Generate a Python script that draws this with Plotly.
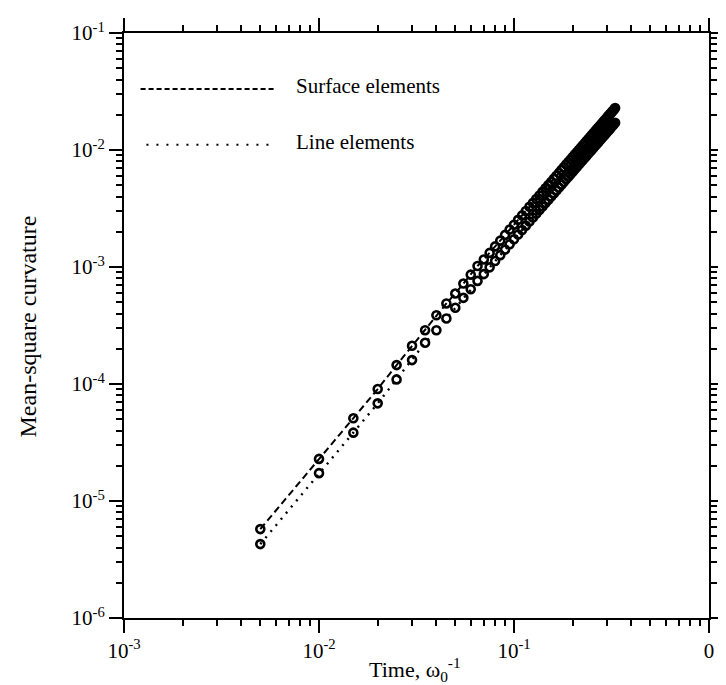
import plotly.graph_objects as go

# ---- data ----
time = [0.005, 0.01, 0.015, 0.02, 0.025, 0.03, 0.035, 0.04, 0.045, 0.05,
        0.055, 0.06, 0.065, 0.07, 0.075, 0.08, 0.085, 0.09, 0.095, 0.10,
        0.105, 0.11, 0.115, 0.12, 0.125, 0.13, 0.135, 0.14, 0.145, 0.15,
        0.155, 0.16, 0.165, 0.17, 0.175, 0.18, 0.185, 0.19, 0.195, 0.20,
        0.205, 0.21, 0.215, 0.22, 0.225, 0.23, 0.235, 0.24, 0.245, 0.25,
        0.255, 0.26, 0.265, 0.27, 0.275, 0.28, 0.285, 0.29, 0.295, 0.30,
        0.305, 0.31, 0.315, 0.32, 0.325, 0.33]

surface = [5.75e-6, 2.29e-5, 5.09e-5, 9.05e-5, 1.45e-4, 2.12e-4, 2.88e-4, 3.87e-4, 4.88e-4, 5.93e-4,
           7.22e-4, 8.60e-4, 1.02e-3, 1.16e-3, 1.32e-3, 1.50e-3, 1.68e-3, 1.88e-3, 2.09e-3, 2.30e-3,
           2.53e-3, 2.76e-3, 3.01e-3, 3.27e-3, 3.53e-3, 3.81e-3, 4.09e-3, 4.39e-3, 4.70e-3, 5.01e-3,
           5.34e-3, 5.67e-3, 6.02e-3, 6.37e-3, 6.74e-3, 7.11e-3, 7.50e-3, 7.89e-3, 8.29e-3, 8.71e-3,
           9.13e-3, 9.56e-3, 1.000e-2, 1.046e-2, 1.092e-2, 1.139e-2, 1.187e-2, 1.236e-2, 1.286e-2, 1.336e-2,
           1.388e-2, 1.441e-2, 1.495e-2, 1.549e-2, 1.605e-2, 1.661e-2, 1.719e-2, 1.777e-2, 1.836e-2, 1.897e-2,
           1.958e-2, 2.020e-2, 2.083e-2, 2.147e-2, 2.212e-2, 2.280e-2]

line_el = [4.28e-6, 1.73e-5, 3.84e-5, 6.83e-5, 1.095e-4, 1.60e-4, 2.25e-4, 2.88e-4, 3.63e-4, 4.48e-4,
           5.45e-4, 6.46e-4, 7.61e-4, 8.70e-4, 9.93e-4, 1.124e-3, 1.263e-3, 1.409e-3, 1.564e-3, 1.726e-3,
           1.895e-3, 2.072e-3, 2.257e-3, 2.449e-3, 2.648e-3, 2.855e-3, 3.071e-3, 3.293e-3, 3.522e-3, 3.759e-3,
           4.003e-3, 4.255e-3, 4.514e-3, 4.780e-3, 5.054e-3, 5.334e-3, 5.622e-3, 5.918e-3, 6.220e-3, 6.530e-3,
           6.847e-3, 7.172e-3, 7.502e-3, 7.841e-3, 8.187e-3, 8.540e-3, 8.900e-3, 9.267e-3, 9.641e-3, 1.0022e-2,
           1.0411e-2, 1.0807e-2, 1.1209e-2, 1.1618e-2, 1.2035e-2, 1.2458e-2, 1.2890e-2, 1.3328e-2, 1.3772e-2, 1.4224e-2,
           1.4682e-2, 1.5148e-2, 1.5620e-2, 1.6100e-2, 1.6586e-2, 1.7080e-2]

x_tickvals = [1e-3, 1e-2, 1e-1, 1]
x_ticktext = ["10<sup>-3</sup>", "10<sup>-2</sup>", "10<sup>-1</sup>", "0"]
y_tickvals = [1e-6, 1e-5, 1e-4, 1e-3, 1e-2, 1e-1]
y_ticktext = ["10<sup>-6</sup>", "10<sup>-5</sup>", "10<sup>-4</sup>",
              "10<sup>-3</sup>", "10<sup>-2</sup>", "10<sup>-1</sup>"]

series_names = ["Surface elements", "Line elements"]

FONT = "Liberation Serif, Times New Roman, serif"
W, H = 726, 685
L, R, T, B = 116, 10, 24, 75
PH = H - T - B

def py(pix):
    return 1 - (pix - T) / PH

marker_style = dict(symbol="circle-open", size=8, color="black",
                    line=dict(width=2.6, color="black"))

fig = go.Figure()
fig.add_trace(go.Scatter(
    x=time, y=surface, mode="lines+markers", name=series_names[0],
    line=dict(color="black", width=2, dash="7px,4px"),
    marker=marker_style, showlegend=False))
fig.add_trace(go.Scatter(
    x=time, y=line_el, mode="lines+markers", name=series_names[1],
    line=dict(color="black", width=2.4, dash="2px,6px"),
    marker=marker_style, showlegend=False))

axis_common = dict(
    type="log", showline=True, linecolor="black", linewidth=2, mirror="allticks",
    ticks="outside", ticklen=13, tickwidth=2, tickcolor="black",
    showgrid=False, zeroline=False,
    tickfont=dict(family=FONT, size=21, color="black"),
    minor=dict(ticks="outside", ticklen=6, tickwidth=1.5, tickcolor="black",
               dtick="D1", showgrid=False),
)

fig.update_xaxes(range=[-3, 0], tickmode="array", tickvals=x_tickvals,
                 ticktext=x_ticktext, **axis_common)
fig.update_yaxes(range=[-6, -1], tickmode="array", tickvals=y_tickvals,
                 ticktext=y_ticktext, **axis_common)

# legend drawn as shapes + text
leg_y = [80, 136]
leg_dash = ["5px,3px", "2px,8px"]
leg_x0 = [133, 139]
for i in range(2):
    fig.add_shape(type="line", xref="paper", yref="paper",
                  x0=(leg_x0[i] - L) / (W - L - R), x1=(272 - L) / (W - L - R),
                  y0=py(leg_y[i]), y1=py(leg_y[i]),
                  line=dict(color="black", width=2, dash=leg_dash[i]))
    fig.add_annotation(xref="paper", yref="paper",
                       x=(290 - L) / (W - L - R), y=py(leg_y[i] - 3),
                       xanchor="left", yanchor="middle", showarrow=False,
                       text=series_names[i],
                       font=dict(family=FONT, size=21, color="black"))

fig.add_annotation(xref="paper", yref="paper", x=(414 - L) / (W - L - R), y=0,
                   yshift=-(661 - (H - B)), xanchor="center", yanchor="middle",
                   showarrow=False, text="Time, ω<sub>0</sub><sup>-1</sup>",
                   font=dict(family=FONT, size=22, color="black"))
fig.add_annotation(xref="paper", yref="paper", x=0, xshift=-(L - 20), y=py(318),
                   xanchor="center", yanchor="middle", textangle=-90,
                   showarrow=False, text="Mean-square curvature",
                   font=dict(family=FONT, size=24, color="black"))

fig.update_layout(
    width=W, height=H, autosize=False,
    margin=dict(l=L, r=R, t=T, b=B),
    paper_bgcolor="white", plot_bgcolor="white",
    showlegend=False,
)

fig.write_html("out.html")
